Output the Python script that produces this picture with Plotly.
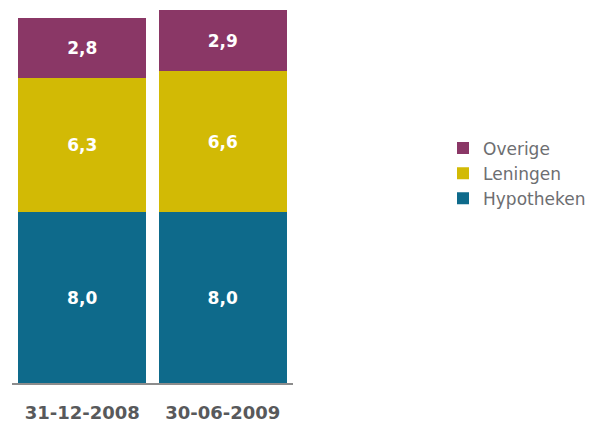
import plotly.graph_objects as go

categories = ["31-12-2008", "30-06-2009"]
hypotheken = [8.0, 8.0]
leningen = [6.3, 6.6]
overige = [2.8, 2.9]

series = [
    ("Hypotheken", hypotheken, "#0e6a8b"),
    ("Leningen", leningen, "#d2ba05"),
    ("Overige", overige, "#8a3766"),
]

fig = go.Figure()
for name, vals, col in series:
    fig.add_trace(go.Bar(
        x=categories, y=vals, name=name,
        marker=dict(color=col, line=dict(width=0)),
        text=[f"{v:.1f}".replace(".", ",") for v in vals],
        textposition="inside", insidetextanchor="middle",
        textfont=dict(family="DejaVu Sans", size=17, color="white", weight="bold"),
        hoverinfo="skip",
    ))

fig.update_layout(
    width=591, height=423,
    barmode="stack", bargap=0.09,
    margin=dict(l=12, r=298, t=0, b=36),
    plot_bgcolor="white", paper_bgcolor="white",
    showlegend=True,
    legend=dict(
        x=1.535, xanchor="left", y=0.547, yanchor="middle",
        traceorder="reversed",
        font=dict(family="DejaVu Sans", size=17, color="#6d6e71"),
        itemwidth=30, tracegroupgap=0,
    ),
)
fig.update_xaxes(
    showline=True, linecolor="#8c8c8c", linewidth=2,
    showgrid=False, ticks="", ticklabelstandoff=12,
    tickfont=dict(family="DejaVu Sans", size=18, color="#58595b", weight="bold"),
)
fig.update_yaxes(visible=False, range=[0, 17.95], showgrid=False)

fig.write_html("out.html")
